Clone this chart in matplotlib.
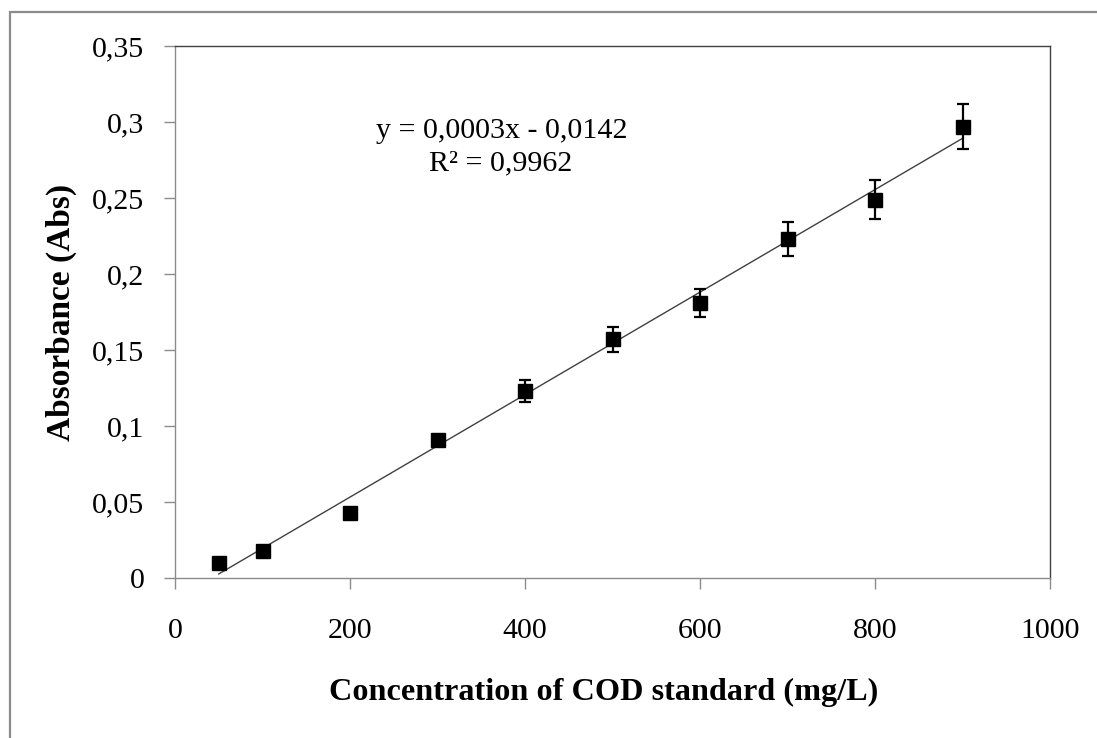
import numpy as np
import matplotlib
matplotlib.use("Agg")
import matplotlib.pyplot as plt
from matplotlib.patches import Rectangle
from matplotlib.ticker import FuncFormatter

# COD calibration standards
conc = [50, 100, 200, 300, 400, 500, 600, 700, 800, 900]
absorb = [0.010, 0.018, 0.043, 0.091, 0.123, 0.157, 0.181, 0.223, 0.249, 0.297]
err = [0.0, 0.0, 0.0, 0.003, 0.007, 0.008, 0.0093, 0.0113, 0.0126, 0.0148]

x_ticks = [0, 200, 400, 600, 800, 1000]
y_ticks = [0, 0.05, 0.1, 0.15, 0.2, 0.25, 0.3, 0.35]

eq_text = "y = 0,0003x - 0,0142"
r2_text = "R\u00b2 = 0,9962"

W, H = 1097, 738
plt.rcParams['font.family'] = ['Liberation Serif', 'DejaVu Serif']

fig = plt.figure(figsize=(W / 100, H / 100), dpi=100)
fig.patches.append(Rectangle((10 / W, -0.1), 1.2, 1 - 12 / H + 0.1, transform=fig.transFigure,
                             fill=False, edgecolor='#8c8c8c', linewidth=1.6))

ax = fig.add_axes([175 / W, (H - 578) / H, 875 / W, 532 / H])

# linear trend line from least squares
slope, icpt = np.polyfit(conc, absorb, 1)
xs = np.array([conc[0], conc[-1]])
ax.plot(xs, slope * xs + icpt, color='#404040', linewidth=1.0, zorder=2)

ax.errorbar(conc, absorb, yerr=err, fmt='s', color='black', markersize=10,
            ecolor='black', elinewidth=1.6, capsize=4, capthick=1.6, zorder=3)

ax.set_xlim(0, 1000)
ax.set_ylim(0, 0.35)
ax.set_xticks(x_ticks)
ax.set_yticks(y_ticks)
ax.xaxis.set_major_formatter(FuncFormatter(lambda v, p: f"{v:g}"))
ax.yaxis.set_major_formatter(FuncFormatter(lambda v, p: f"{v:g}".replace('.', ',')))

ax.tick_params(axis='both', direction='out', length=8, width=1, color='#8c8c8c', labelsize=21.5)
ax.tick_params(axis='y', pad=14)
ax.tick_params(axis='x', pad=21)

for side in ['left', 'bottom']:
    ax.spines[side].set_color('#8c8c8c')
for side in ['top', 'right']:
    ax.spines[side].set_color('#404040')
for s in ax.spines.values():
    s.set_linewidth(1.0)

ax.set_xlabel("Concentration of COD standard (mg/L)", fontsize=23.2, fontweight='bold', labelpad=22)
ax.xaxis.set_label_coords((604 - 175) / 875, -(692 - 578) / 532)
ax.set_ylabel("Absorbance (Abs)", fontsize=24, fontweight='bold')
ax.yaxis.set_label_coords(-(175 - 61) / 875, 0.5)
ax.yaxis.label.set_va('center')
ax.xaxis.label.set_va('center')

fig.text(502 / W, 1 - 131 / H, eq_text, ha='center', va='center', fontsize=21.6)
fig.text(501 / W, 1 - 163 / H, r2_text, ha='center', va='center', fontsize=21.6)

fig.savefig("out.png", dpi=100, facecolor='white')
